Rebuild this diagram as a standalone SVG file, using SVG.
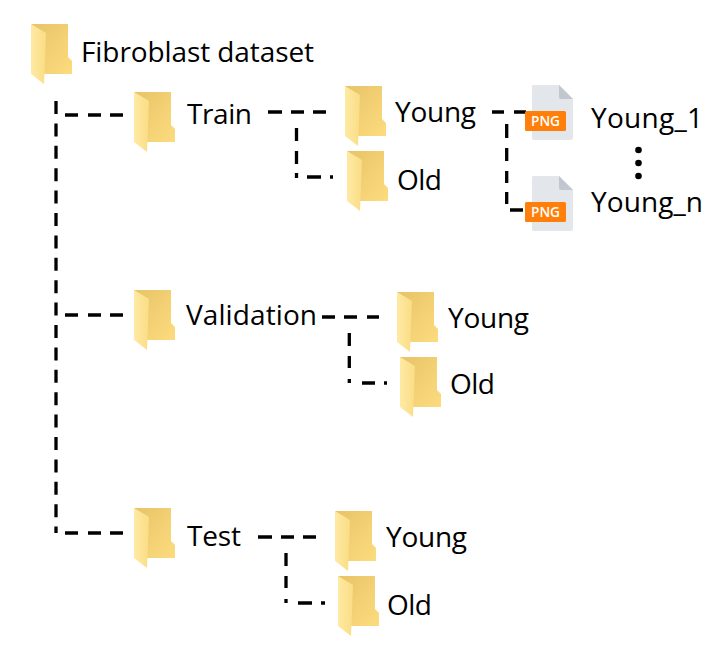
<svg xmlns="http://www.w3.org/2000/svg" width="725" height="650" viewBox="0 0 725 650">
<style>
.t{font-family:"Open Sans","Noto Sans",sans-serif;font-size:28px;fill:#000}
.c{fill:none;stroke:#000;stroke-width:3.300}
.png{font-family:"Open Sans","Noto Sans",sans-serif;font-size:14.500px;font-weight:600;fill:#fff}
</style>
<defs>
<linearGradient id="b" x1="0" y1="0" x2="1" y2="1"><stop offset="0" stop-color="#e8c368"/><stop offset="1" stop-color="#fcdc7e"/></linearGradient>
<linearGradient id="f" x1="0" y1="0" x2="1" y2="0"><stop offset="0" stop-color="#ffeaa4"/><stop offset="1" stop-color="#fadd85"/></linearGradient>
<symbol id="folder" width="42" height="61" viewBox="0 0 42 61" overflow="visible">
<path d="M0 0H37V33L41 37V50H13Z" fill="url(#b)"/>
<path d="M0 0L15 9L13 60L0 50Z" fill="url(#f)"/>
</symbol>
<symbol id="pngicon" width="48" height="56" viewBox="0 0 48 56" overflow="visible">
<path d="M7 1Q7 0 9 0H34L48 14V53Q48 55 46 55H9Q7 55 7 53Z" fill="#e3e7eb"/>
<path d="M34 0L48 14H36Q34 14 34 12Z" fill="#c1c7cf"/>
<rect x="0" y="26" width="41" height="20" rx="1.500" fill="#ff7f0a"/>
<text x="6" y="41" class="png" textLength="29" lengthAdjust="spacingAndGlyphs">PNG</text>
</symbol>
</defs>
<g id="connectors" class="c">
<path d="M56 101V533" stroke-dasharray="13 9.400"/>
<path d="M65 115H78M88 115H101M110 115H123M65 315H78M88 315H101M110 315H123M65 533H78M88 533H101M110 533H123"/>
<path d="M268 112H282M291 112H304M313 112H326M296.500 128V141M296.500 151V164M296.500 173V178M307 177H321M330 177H333"/>
<path d="M492 112H504M514 112H526M506.700 124V138M506.700 148V161M506.700 171V183M506.700 192V204M510 210H523"/>
<path d="M322 317H335M344 317H357M367 317H379M349.300 333V346M349.300 356V368M349.300 379V383M362 383H375M384 383H387"/>
<path d="M258 537H272M281 537H294M303 537H316M286 553V566M286 576V588M286 599V603M298 603H312M321 603H325"/>
</g>
<g id="dots" fill="#000"><circle cx="638.500" cy="150" r="3.300"/><circle cx="638.500" cy="163" r="3.300"/><circle cx="638.500" cy="176" r="3.300"/></g>
<g id="root"><use href="#folder" x="31" y="24"/><text class="t" x="81" y="62" textLength="233">Fibroblast dataset</text></g>
<g id="train"><use href="#folder" x="134" y="92"/><text class="t" x="187" y="124" textLength="65">Train</text></g>
<g id="train-young"><use href="#folder" x="345" y="86"/><text class="t" x="395" y="122" textLength="81">Young</text></g>
<g id="train-old"><use href="#folder" x="347" y="151"/><text class="t" x="397" y="190" textLength="45">Old</text></g>
<g id="young-1"><use href="#pngicon" x="525" y="85"/><text class="t" x="591" y="128" textLength="112">Young_1</text></g>
<g id="young-n"><use href="#pngicon" x="525" y="176"/><text class="t" x="591" y="212" textLength="112">Young_n</text></g>
<g id="validation"><use href="#folder" x="134" y="290"/><text class="t" x="186" y="325" textLength="131">Validation</text></g>
<g id="validation-young"><use href="#folder" x="397" y="292"/><text class="t" x="448" y="328" textLength="81">Young</text></g>
<g id="validation-old"><use href="#folder" x="400" y="357"/><text class="t" x="450" y="394" textLength="45">Old</text></g>
<g id="test"><use href="#folder" x="134" y="508"/><text class="t" x="187" y="546" textLength="54">Test</text></g>
<g id="test-young"><use href="#folder" x="335" y="511"/><text class="t" x="386" y="547" textLength="81">Young</text></g>
<g id="test-old"><use href="#folder" x="338" y="576"/><text class="t" x="387" y="615" textLength="45">Old</text></g>
</svg>
